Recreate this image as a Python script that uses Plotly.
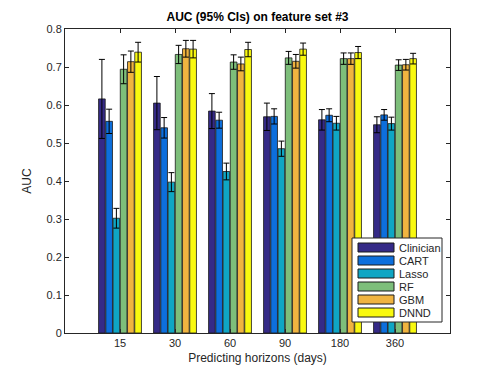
import plotly.graph_objects as go

horizons = ["15", "30", "60", "90", "180", "360"]
models = ["Clinician", "CART", "Lasso", "RF", "GBM", "DNND"]
colors = ["#352a87", "#0d6fdc", "#0fa6c4", "#7dbe7a", "#f0b440", "#f9f90f"]

# AUC means per model, one value per horizon
auc = {
    "Clinician": [0.616, 0.605, 0.584, 0.569, 0.561, 0.548],
    "CART":      [0.557, 0.540, 0.560, 0.570, 0.573, 0.574],
    "Lasso":     [0.302, 0.397, 0.425, 0.485, 0.552, 0.551],
    "RF":        [0.694, 0.733, 0.713, 0.724, 0.722, 0.705],
    "GBM":       [0.714, 0.748, 0.708, 0.715, 0.722, 0.706],
    "DNND":      [0.739, 0.747, 0.746, 0.747, 0.738, 0.722],
}
# half width of the 95% CI
ci = {
    "Clinician": [0.104, 0.070, 0.046, 0.036, 0.027, 0.021],
    "CART":      [0.032, 0.027, 0.021, 0.020, 0.017, 0.014],
    "Lasso":     [0.026, 0.025, 0.022, 0.020, 0.018, 0.017],
    "RF":        [0.038, 0.024, 0.019, 0.017, 0.015, 0.014],
    "GBM":       [0.028, 0.022, 0.018, 0.018, 0.015, 0.014],
    "DNND":      [0.026, 0.023, 0.019, 0.016, 0.016, 0.014],
}

FONT = "Liberation Sans, Arial, sans-serif"
x_pos = list(range(1, len(horizons) + 1))

fig = go.Figure()
for name, col in zip(models, colors):
    fig.add_trace(go.Bar(
        x=x_pos, y=auc[name], name=name,
        marker=dict(color=col, line=dict(color="#1a1a1a", width=0.8)),
        error_y=dict(type="data", array=ci[name], color="black", thickness=1, width=3),
        showlegend=False,
    ))

# page body has an 8px default margin, so everything is offset by that
OFF = 8
FW, FH = 498 - OFF, 374 - OFF
L, T = 65 - OFF, 29 - OFF
W, H = 385, 304
# helpers take page pixel coords
def px(x): return (x - OFF - L) / W
def py(y): return (T + H - (y - OFF)) / H

shapes = [dict(type="rect", xref="paper", yref="paper",
               x0=px(352), x1=px(442), y0=py(322), y1=py(238),
               fillcolor="white", line=dict(color="#262626", width=1))]
annotations = []
for i, (name, col) in enumerate(zip(models, colors)):
    cy = 247.5 + 13 * i
    shapes.append(dict(type="rect", xref="paper", yref="paper",
                       x0=px(358), x1=px(394), y0=py(cy + 4.5), y1=py(cy - 4.5),
                       fillcolor=col, line=dict(color="#1a1a1a", width=1)))
    annotations.append(dict(xref="paper", yref="paper", x=px(397), y=py(cy),
                            text=name, showarrow=False, xanchor="left", yanchor="middle",
                            font=dict(family=FONT, size=11, color="#262626")))

fig.update_layout(
    width=FW, height=FH,
    margin=dict(l=L, r=FW - L - W, t=T, b=FH - T - H),
    paper_bgcolor="white", plot_bgcolor="white",
    barmode="group", bargap=0.21, bargroupgap=0.08,
    font=dict(family=FONT, size=11, color="#262626"),
    title=dict(text="<b>AUC (95% CIs) on feature set #3</b>", x=px(257.5), xref="paper",
               y=1 - (17 - OFF) / FH, yanchor="middle", font=dict(size=12, color="black")),
    xaxis=dict(range=[0, 7], tickvals=x_pos, ticktext=horizons,
               ticks="inside", ticklen=4, tickcolor="#262626",
               showline=True, linecolor="#262626", linewidth=1, mirror="ticks",
               showgrid=False, zeroline=False,
               title=dict(text="Predicting horizons (days)", standoff=5, font=dict(size=12))),
    yaxis=dict(range=[0, 0.8], dtick=0.1,
               ticks="inside", ticklen=4, tickcolor="#262626",
               showline=True, linecolor="#262626", linewidth=1, mirror="ticks",
               showgrid=False, zeroline=False,
               title=dict(text="AUC", standoff=12, font=dict(size=12))),
    shapes=shapes, annotations=annotations,
)

fig.write_html("out.html")
